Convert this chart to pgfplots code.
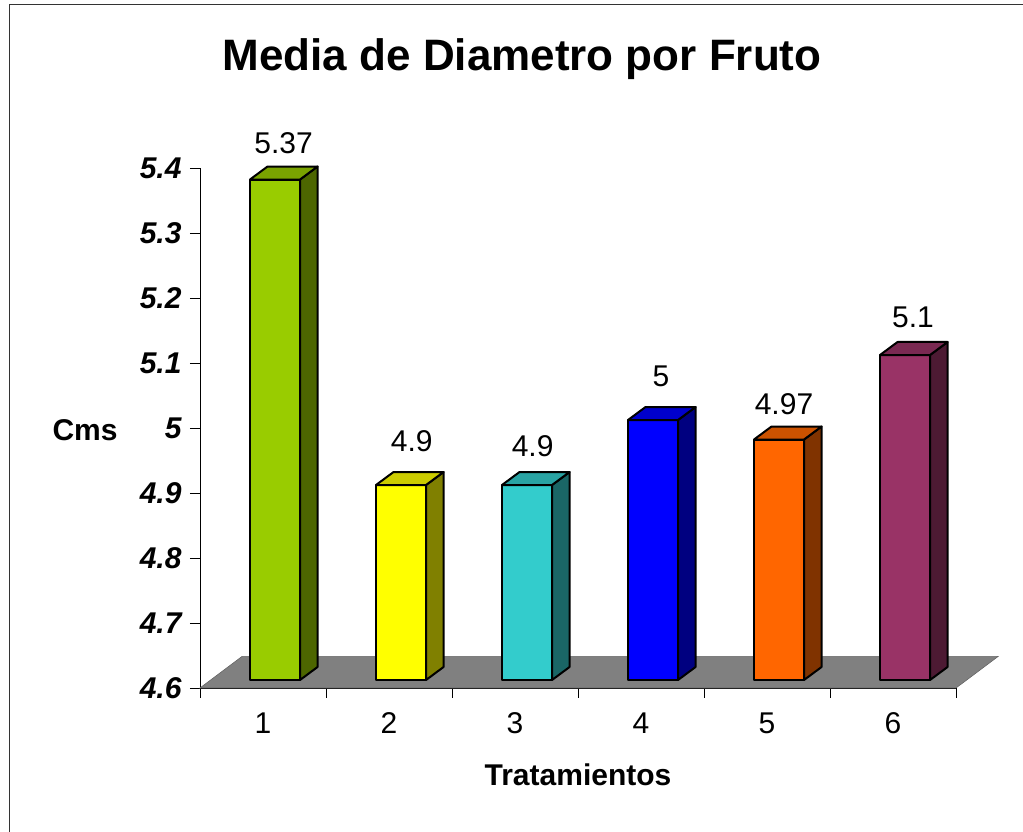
\documentclass[border=0pt]{standalone}
\usepackage{pgfplots}
\pgfplotsset{compat=1.18}
\usepackage{fontspec}
\setmainfont{Liberation Sans}
\definecolor{f1}{HTML}{99CC00}\definecolor{s1}{HTML}{4D6600}\definecolor{t1}{HTML}{7AA300}
\definecolor{f2}{HTML}{FFFF00}\definecolor{s2}{HTML}{808000}\definecolor{t2}{HTML}{CCCC00}
\definecolor{f3}{HTML}{33CCCC}\definecolor{s3}{HTML}{1A6666}\definecolor{t3}{HTML}{29A3A3}
\definecolor{f4}{HTML}{0000FF}\definecolor{s4}{HTML}{000080}\definecolor{t4}{HTML}{0000CC}
\definecolor{f5}{HTML}{FF6600}\definecolor{s5}{HTML}{803300}\definecolor{t5}{HTML}{CC5200}
\definecolor{f6}{HTML}{993366}\definecolor{s6}{HTML}{4D1A33}\definecolor{t6}{HTML}{7A2952}
\newcommand\tbar[5]{%
  \pgfmathsetmacro\xa{#1-0.103}%
  \pgfmathsetmacro\xb{#1+0.294}%
  \pgfmathsetmacro\xc{#1+0.294+0.139}%
  \pgfmathsetmacro\xd{#1-0.103+0.139}%
  \pgfmathsetmacro\ya{4.6123}%
  \pgfmathsetmacro\yb{#2+0.0123}%
  \pgfmathsetmacro\yc{#2+0.0123+0.02}%
  \pgfmathsetmacro\yd{4.6123+0.02}%
  \addplot[fill=#3, draw=black, line width=2pt, line join=round] coordinates {(\xa,\ya) (\xb,\ya) (\xb,\yb) (\xa,\yb)} --cycle;
  \addplot[fill=#4, draw=black, line width=2pt, line join=round] coordinates {(\xb,\ya) (\xc,\yd) (\xc,\yc) (\xb,\yb)} --cycle;
  \addplot[fill=#5, draw=black, line width=2pt, line join=round] coordinates {(\xa,\yb) (\xb,\yb) (\xc,\yc) (\xd,\yc)} --cycle;
}
\begin{document}
\begin{tikzpicture}
\draw[line width=1pt, black!80] (9pt,-10pt) |- (1040pt,827pt);
\begin{axis}[
  at={(200pt,144pt)}, anchor=south west,
  scale only axis, width=756pt, height=520pt,
  xmin=0.5, xmax=6.5, ymin=4.6, ymax=5.4,
  clip=false,
  axis x line=bottom, axis y line=left,
  axis line style={-, line width=0.8pt},
  every tick/.style={black, line width=0.8pt},
  tick align=outside,
  xtick={1,2,3,4,5,6},
  major x tick style={draw=none},
  minor xtick={0.5,1.5,2.5,3.5,4.5,5.5,6.5},
  minor tick length=10pt,
  major tick length=10pt,
  ytick={4.6,4.7,4.8,4.9,5,5.1,5.2,5.3,5.4},
  /pgf/number format/assume math mode=true,
  xticklabel style={font=\fontsize{30}{30}\selectfont, yshift=-11pt},
  yticklabel style={font=\bfseries\itshape\fontsize{30}{30}\selectfont, xshift=-5pt},
  title={Media de Diametro por Fruto},
  title style={font=\bfseries\fontsize{44}{44}\selectfont, at={(axis description cs:0.426,1.197)}, anchor=center},
  xlabel={Tratamientos},
  xlabel style={font=\bfseries\fontsize{30}{30}\selectfont, at={(axis description cs:0.5,-0.167)}, anchor=center},
  ylabel={Cms},
  ylabel style={font=\bfseries\fontsize{30}{30}\selectfont, at={(axis description cs:-0.152,0.496)}, anchor=center, rotate=-90},
]
\addplot[fill=black!50, draw=black!60, line width=0.6pt] coordinates {(0.5,4.6) (6.5,4.6) (6.835,4.6487) (0.835,4.6487)} --cycle;
\tbar{1}{5.37}{f1}{s1}{t1}
\tbar{2}{4.90}{f2}{s2}{t2}
\tbar{3}{4.90}{f3}{s3}{t3}
\tbar{4}{5.00}{f4}{s4}{t4}
\tbar{5}{4.97}{f5}{s5}{t5}
\tbar{6}{5.10}{f6}{s6}{t6}
\addplot[draw=none, mark=none, nodes near coords, point meta=explicit symbolic,
  every node near coord/.append style={anchor=center, inner sep=0pt, font=\fontsize{30}{30}\selectfont}]
  coordinates {(1.163,5.4377)[5.37] (2.180,4.979)[4.9] (3.140,4.972)[4.9] (4.159,5.080)[5] (5.135,5.037)[4.97] (6.159,5.170)[5.1]};
\end{axis}
\pgfresetboundingbox
\path (0,0) rectangle (1023pt,832pt);
\end{tikzpicture}
\end{document}
